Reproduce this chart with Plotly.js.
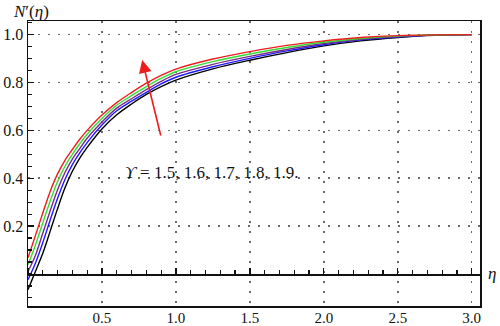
<!DOCTYPE html>
<html>
<head>
<meta charset="utf-8">
<script src="https://cdn.plot.ly/plotly-3.0.1.min.js"></script>
<style>html,body{margin:0;padding:0;background:#fff;}</style>
</head>
<body>
<div id="chart" style="width:500px;height:326px;"></div>
<script>
// eta grid
const eta = [0, 0.05, 0.1, 0.15, 0.2, 0.25, 0.3, 0.35, 0.4, 0.5, 0.6, 0.7, 0.8, 0.9, 1.0, 1.25, 1.5, 1.75, 2.0, 2.25, 2.5, 2.75, 3.0];
// N'(eta) for Upsilon = 1.5 ... 1.9 (black, blue, purple, green, red)
const ups15 = [-0.066, 0.010, 0.086, 0.179, 0.273, 0.360, 0.429, 0.484, 0.529, 0.606, 0.665, 0.710, 0.750, 0.783, 0.810, 0.857, 0.893, 0.925, 0.953, 0.974, 0.988, 0.997, 1.000];
const ups16 = [-0.024, 0.045, 0.131, 0.225, 0.316, 0.395, 0.457, 0.506, 0.549, 0.622, 0.682, 0.722, 0.759, 0.794, 0.822, 0.866, 0.901, 0.932, 0.958, 0.978, 0.990, 0.998, 1.000];
const ups17 = [ 0.010, 0.077, 0.170, 0.264, 0.352, 0.424, 0.480, 0.524, 0.567, 0.635, 0.693, 0.732, 0.770, 0.805, 0.834, 0.876, 0.909, 0.938, 0.963, 0.981, 0.992, 0.998, 1.000];
const ups18 = [ 0.038, 0.120, 0.213, 0.305, 0.386, 0.450, 0.500, 0.544, 0.584, 0.650, 0.705, 0.745, 0.783, 0.817, 0.845, 0.887, 0.919, 0.946, 0.968, 0.984, 0.994, 0.999, 1.000];
const ups19 = [ 0.068, 0.160, 0.255, 0.345, 0.418, 0.475, 0.520, 0.563, 0.600, 0.664, 0.716, 0.758, 0.797, 0.830, 0.856, 0.898, 0.929, 0.955, 0.974, 0.988, 0.996, 0.999, 1.000];
const seriesNames = ['Υ = 1.5', 'Υ = 1.6', 'Υ = 1.7', 'Υ = 1.8', 'Υ = 1.9'];
const seriesColors = ['#000000', '#1a1aff', '#7a2a8a', '#33dd33', '#ee1c1c'];
const xTickVals = [0.5, 1.0, 1.5, 2.0, 2.5, 3.0];
const xTickText = ['0.5', '1.0', '1.5', '2.0', '2.5', '3.0'];
const yTickVals = [0.2, 0.4, 0.6, 0.8, 1.0];
const yTickText = ['0.2', '0.4', '0.6', '0.8', '1.0'];
const labelText = '<i>ϒ</i> = 1.5, 1.6, 1.7, 1.8, 1.9.';

const xRange = [0, 3.056];
const yRange = [-0.134, 1.057];

const allSeries = [ups15, ups16, ups17, ups18, ups19];
const traces = allSeries.map((ys, i) => ({
  type: 'scatter', mode: 'lines', x: eta, y: ys, name: seriesNames[i],
  line: {color: seriesColors[i], width: 1.4, shape: 'spline', smoothing: 0.9},
  hoverinfo: 'skip'
}));
// empty trace to activate the axis drawn at eta-axis (y = 0)
traces.push({type: 'scatter', mode: 'lines', x: [], y: [], xaxis: 'x2', yaxis: 'y', showlegend: false, hoverinfo: 'skip'});

const gridDash = '1.6px,8.4px';
const frameColor = '#111';
const zeroPos = (0 - yRange[0]) / (yRange[1] - yRange[0]);

const layout = {
  width: 500, height: 326,
  margin: {l: 28, r: 20, t: 21, b: 20, pad: 0},
  paper_bgcolor: '#fff', plot_bgcolor: '#fff',
  showlegend: false,
  font: {family: '"Liberation Serif", "DejaVu Serif", serif', size: 15, color: '#111'},
  xaxis: {
    range: xRange, tickmode: 'array', tickvals: xTickVals, ticktext: xTickText,
    ticks: '', showline: true, mirror: true, linecolor: frameColor, linewidth: 1.5,
    showgrid: true, gridcolor: '#6a6a6a', gridwidth: 1.5, griddash: gridDash,
    zeroline: false, tickfont: {size: 15}, ticklabelstandoff: -3
  },
  xaxis2: {
    overlaying: 'x', anchor: 'free', position: zeroPos, side: 'top',
    range: xRange, tickmode: 'linear', tick0: 0, dtick: 0.5,
    ticks: 'outside', ticklen: 6, tickwidth: 1.3, tickcolor: frameColor,
    showticklabels: false, showline: true, linecolor: frameColor, linewidth: 1.6,
    showgrid: false, zeroline: false,
    minor: {ticks: 'outside', tickmode: 'linear', tick0: 0, dtick: 0.1, ticklen: 4, tickwidth: 1.2, tickcolor: frameColor, showgrid: false}
  },
  yaxis: {
    range: yRange, tickmode: 'array', tickvals: yTickVals, ticktext: yTickText,
    ticks: 'inside', ticklen: 6, tickwidth: 1.3, tickcolor: frameColor,
    showline: true, mirror: true, linecolor: frameColor, linewidth: 1.5,
    showgrid: true, gridcolor: '#6a6a6a', gridwidth: 1.5, griddash: gridDash,
    zeroline: false, tickfont: {size: 16},
    minor: {ticks: 'inside', tickmode: 'linear', tick0: 0, dtick: 0.05, ticklen: 3.5, tickwidth: 1.2, tickcolor: frameColor, showgrid: false}
  },
  annotations: [
    {xref: 'x', yref: 'y', x: 0.64, y: 0.423, xanchor: 'left', yanchor: 'middle',
     text: labelText, showarrow: false, font: {size: 17, color: '#111'}},
    {xref: 'x', yref: 'y', x: 0.772, y: 0.894, axref: 'x', ayref: 'y', ax: 0.90, ay: 0.572,
     text: '', showarrow: true, arrowhead: 2, arrowsize: 1.6, arrowwidth: 1.6, arrowcolor: '#ee1c1c', standoff: 0, startstandoff: 0},
    {xref: 'paper', yref: 'paper', x: 0.0, y: 1.0, xanchor: 'center', yanchor: 'bottom', xshift: 3, yshift: -2,
     text: '<i>N</i>′(<i>η</i>)', showarrow: false, font: {size: 17, color: '#111'}},
    {xref: 'paper', yref: 'y', x: 1.0, y: 0, xanchor: 'left', yanchor: 'middle', xshift: 6,
     text: '<i>η</i>', showarrow: false, font: {size: 17, color: '#111'}}
  ]
};

Plotly.newPlot('chart', traces, layout, {displayModeBar: false, staticPlot: true});
</script>
</body>
</html>
